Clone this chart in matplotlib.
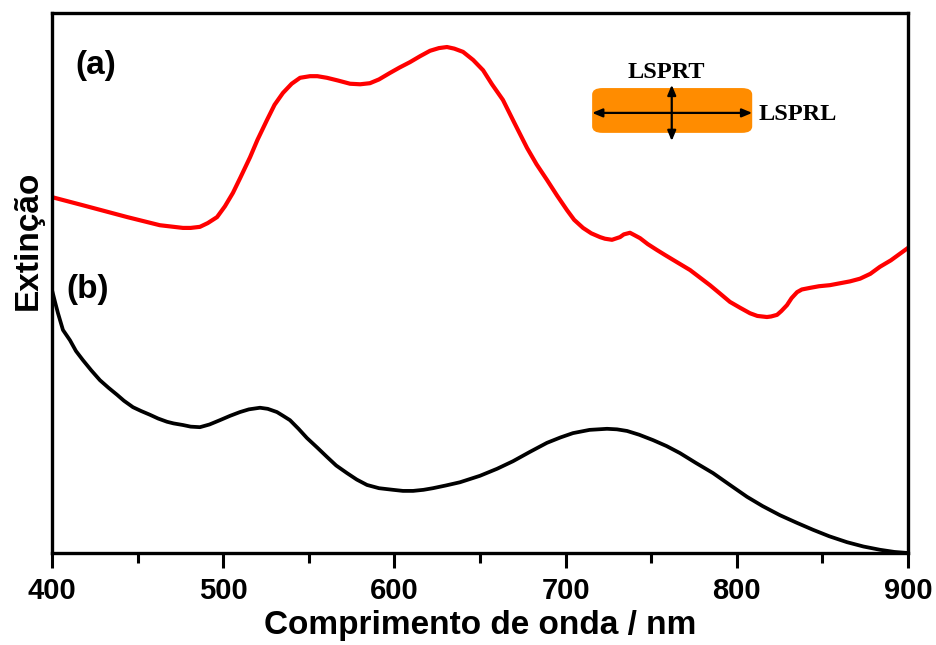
import matplotlib
matplotlib.use("Agg")
import matplotlib.pyplot as plt
from matplotlib.patches import FancyBboxPatch, FancyArrowPatch

# Spectrum (a): extinction of the nanorod sample (arbitrary units)
wl_a = [400, 418, 444, 463, 476.5, 481, 486.4, 491, 496.4, 501, 505.7, 510,
        515.7, 520, 525.6, 530, 534.9, 540, 544.9, 550.7, 555, 560.6, 567,
        574.1, 580, 585.7, 591, 597.4, 603, 609.1, 615, 620.8, 626, 630.7,
        635, 640.1, 646, 651.8, 657, 663.4, 670, 677.5, 683, 689.1, 695,
        700.8, 705, 710.2, 715, 720.1, 723, 727.1, 731.8, 734, 737.6, 740,
        743.5, 748, 753.4, 758, 762.7, 772.7, 784.3, 790, 796.0, 802, 807.7,
        812, 817.6, 820, 823.5, 826, 829.3, 832, 835.2, 838, 842.8, 848,
        854.4, 866.1, 872.0, 878, 883.6, 890, 900]
ext_a = [0.659, 0.644, 0.622, 0.607, 0.602, 0.602, 0.604, 0.611, 0.622, 0.642,
         0.667, 0.695, 0.733, 0.765, 0.802, 0.830, 0.852, 0.869, 0.880, 0.883,
         0.883, 0.880, 0.875, 0.869, 0.868, 0.870, 0.877, 0.889, 0.899, 0.909,
         0.920, 0.930, 0.935, 0.937, 0.934, 0.928, 0.913, 0.894, 0.868, 0.839,
         0.797, 0.750, 0.720, 0.691, 0.662, 0.635, 0.617, 0.602, 0.592, 0.585,
         0.582, 0.580, 0.585, 0.590, 0.593, 0.589, 0.583, 0.572, 0.561, 0.552,
         0.543, 0.524, 0.496, 0.481, 0.465, 0.454, 0.444, 0.439, 0.437, 0.438,
         0.441, 0.448, 0.459, 0.472, 0.483, 0.488, 0.491, 0.494, 0.496, 0.503,
         0.508, 0.517, 0.530, 0.542, 0.565]

# Spectrum (b)
wl_b = [400, 402, 403.5, 406.4, 410.5, 414, 418.1, 423, 428.0, 433, 438.0,
        442, 447.3, 452, 457.2, 462, 467.2, 471, 476.5, 481, 486.4, 492,
        498.1, 504, 509.8, 515, 521.5, 526, 531.4, 535, 539.0, 544, 548.9,
        555, 560.6, 566, 572.3, 578, 584.0, 591, 599.2, 605, 610.9, 617,
        622.5, 630, 638.3, 650.0, 660, 669.3, 679, 689.1, 697, 704.3, 714,
        724.2, 730, 735.9, 743, 751.1, 759, 766.8, 776, 786.1, 796, 806.0,
        815, 825.2, 835, 844.5, 854, 864.4, 874, 883.6, 892, 900]
ext_b = [0.487, 0.462, 0.444, 0.413, 0.394, 0.374, 0.357, 0.338, 0.320, 0.306,
         0.293, 0.282, 0.270, 0.263, 0.256, 0.249, 0.243, 0.240, 0.237, 0.234,
         0.233, 0.238, 0.246, 0.254, 0.261, 0.266, 0.269, 0.267, 0.261, 0.254,
         0.246, 0.230, 0.213, 0.195, 0.178, 0.162, 0.148, 0.136, 0.126, 0.120,
         0.117, 0.115, 0.115, 0.117, 0.120, 0.125, 0.131, 0.143, 0.156, 0.170,
         0.187, 0.204, 0.214, 0.222, 0.228, 0.230, 0.229, 0.226, 0.219, 0.209,
         0.198, 0.185, 0.167, 0.148, 0.126, 0.104, 0.087, 0.070, 0.056, 0.043,
         0.031, 0.020, 0.012, 0.006, 0.002, 0.0]

x_ticks = [400, 500, 600, 700, 800, 900]
x_minor = [450, 550, 650, 750, 850]

plt.rcParams['font.family'] = ['Liberation Sans', 'DejaVu Sans']

fig = plt.figure(figsize=(9.36, 6.45), dpi=100)
ax = fig.add_axes([52/936, 1-553/645, 856/936, 540/645])

ax.plot(wl_a, ext_a, color='#ff0000', lw=3.0, solid_joinstyle='round',
        solid_capstyle='round')
ax.plot(wl_b, ext_b, color='black', lw=2.7, solid_joinstyle='round',
        solid_capstyle='round')

ax.set_xlim(400, 900)
ax.set_ylim(0, 1)
ax.set_xticks(x_ticks)
ax.set_xticks(x_minor, minor=True)
ax.set_yticks([])
ax.tick_params(axis='x', which='major', direction='out', length=11, width=2.2,
               labelsize=21, pad=6)
ax.tick_params(axis='x', which='minor', direction='out', length=7, width=2.2)
for lab in ax.get_xticklabels():
    lab.set_fontweight('bold')
for sp in ax.spines.values():
    sp.set_linewidth(2.4)

ax.set_xlabel('Comprimento de onda / nm', fontsize=24, fontweight='bold', labelpad=4)
fig.text(28/936, 1-240/645, 'Extinção', rotation=90, ha='center', va='center',
         fontsize=24, fontweight='bold')

ax.text(0.051, 0.902, '(a)', transform=ax.transAxes, ha='center', va='center',
        fontsize=24, fontweight='bold')
ax.text(0.0415, 0.488, '(b)', transform=ax.transAxes, ha='center', va='center',
        fontsize=24, fontweight='bold')

# Nanorod sketch with transverse and longitudinal resonance directions
rod = FancyBboxPatch((0.631, 0.778), 0.187, 0.083, transform=ax.transAxes,
                     boxstyle='round,pad=0,rounding_size=0.012',
                     facecolor='#ff8c00', edgecolor='none', zorder=3)
ax.add_patch(rod)
arrow_style = '-|>,head_length=6,head_width=2.5'
for end in [(0.631, 0.815), (0.818, 0.815), (0.724, 0.867), (0.724, 0.763)]:
    ax.add_patch(FancyArrowPatch((0.724, 0.815), end, transform=ax.transAxes,
                                 arrowstyle=arrow_style, color='black', lw=1.6,
                                 zorder=4, shrinkA=0, shrinkB=0))
ax.text((666-52)/856, (553-73)/540, 'LSPRT', transform=ax.transAxes, ha='center',
        va='center', fontsize=17.5, fontweight='bold', family=['Liberation Serif'])
ax.text((798-52)/856, (553-115)/540, 'LSPRL', transform=ax.transAxes, ha='center',
        va='center', fontsize=17.5, fontweight='bold', family=['Liberation Serif'])

fig.savefig('out.png', dpi=100, facecolor='white')
